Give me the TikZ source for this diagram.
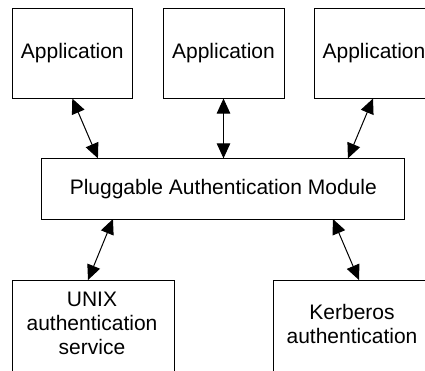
\documentclass[tikz,border=0pt]{standalone}
\usepackage{fontspec}
\setmainfont{Liberation Sans}
\usetikzlibrary{arrows.meta}
\begin{document}
\begin{tikzpicture}[x=1pt,y=-1pt,
  box/.style={draw,line width=1pt,rectangle,inner sep=0pt,outer sep=0pt,
    font=\fontsize{21}{24}\selectfont,align=center},
  label/.style={inner sep=0pt,font=\fontsize{21}{24}\selectfont,align=center},
  link/.style={line width=1pt,{Triangle[length=15pt,width=13.5pt]}-{Triangle[length=15pt,width=13.5pt]}}]
  \clip (0,0) rectangle (425,370);

  % applications on top
  \node[box,minimum width=120.5pt,minimum height=90.5pt] (app1) at (72.3,53.3) {Application};
  \node[box,minimum width=121pt,minimum height=90.5pt] (app2) at (223.5,53.3) {Application};
  \node[box,minimum width=120pt,minimum height=90.5pt] (app3) at (374,53.3) {Application};

  % PAM layer
  \node[box,minimum width=363.3pt,minimum height=60.7pt] (pam) at (223.3,188.7) {Pluggable Authentication Module};

  % authentication services below
  \node[box,minimum width=162pt,minimum height=100pt] (unix) at (93,330) {};
  \node[label] (unixtext) at (92,323) {UNIX\\authentication\\service};
  \node[box,minimum width=162pt,minimum height=100pt] (kerb) at (354,330) {};
  \node[label] (kerbtext) at (352,324) {Kerberos\\authentication};

  % connectors
  \draw[link] (app1.south) -- ([xshift=56.3pt]pam.north west);
  \draw[link] (app2.south) -- (pam.north -| app2.south);
  \draw[link] ([xshift=-1pt]app3.south) -- ([xshift=306.3pt]pam.north west);
  \draw[link] ([xshift=71.3pt]pam.south west) -- ([xshift=-5pt]unix.north);
  \draw[link] ([xshift=291.3pt]pam.south west) -- ([xshift=86pt]kerb.north west);
\end{tikzpicture}
\end{document}
